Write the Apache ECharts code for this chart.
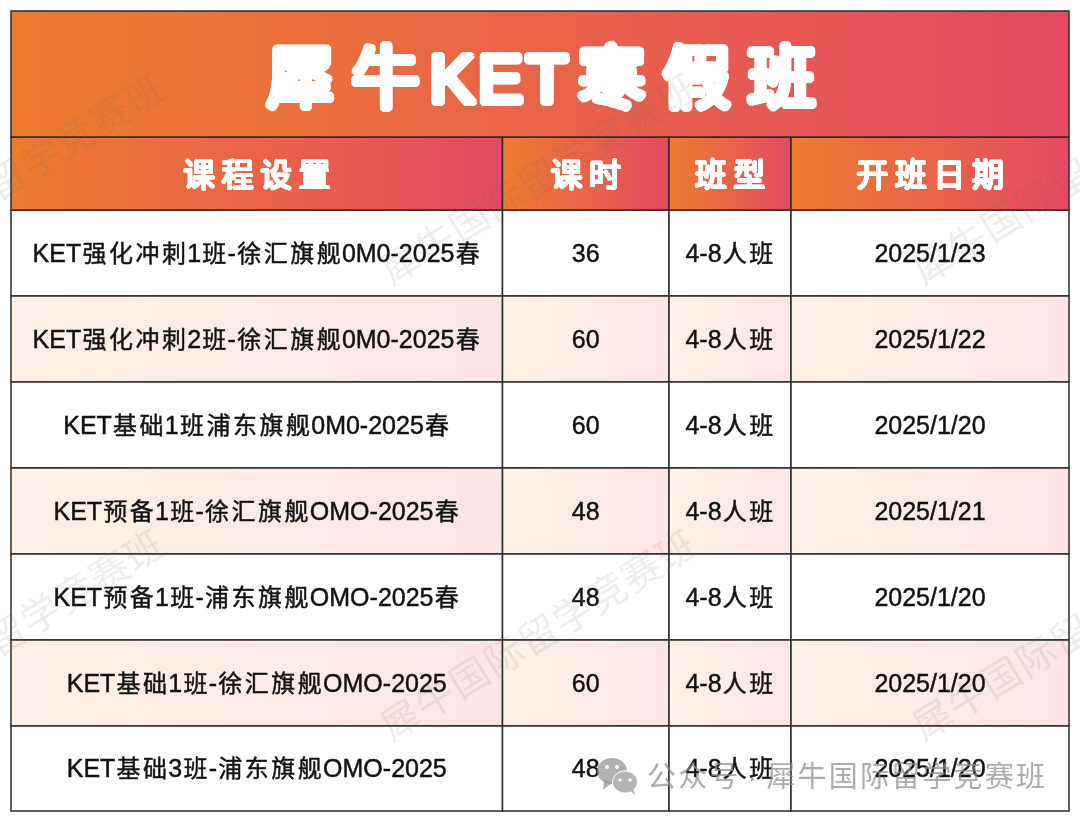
<!DOCTYPE html>
<html>
<head>
<meta charset="utf-8">
<style>html,body{margin:0;padding:0;background:#fff}#chart{width:1080px;height:822px}</style>
<script src="https://cdn.jsdelivr.net/npm/echarts@6/dist/echarts.min.js"></script>
</head>
<body>
<div id="chart"></div>
<script>
// table content
var titleText = '犀牛KET寒假班';
var headers = ['课程设置', '课时', '班型', '开班日期'];
var courses = [
	'KET强化冲刺1班-徐汇旗舰0M0-2025春',
	'KET强化冲刺2班-徐汇旗舰0M0-2025春',
	'KET基础1班浦东旗舰0M0-2025春',
	'KET预备1班-徐汇旗舰OMO-2025春',
	'KET预备1班-浦东旗舰OMO-2025春',
	'KET基础1班-徐汇旗舰OMO-2025',
	'KET基础3班-浦东旗舰OMO-2025'
];
var hours = [36, 60, 60, 48, 48, 60, 48];
var classTypes = ['4-8人班', '4-8人班', '4-8人班', '4-8人班', '4-8人班', '4-8人班', '4-8人班'];
var startDates = ['2025/1/23', '2025/1/22', '2025/1/20', '2025/1/21', '2025/1/20', '2025/1/20', '2025/1/20'];
var watermarkText = '犀牛国际留学竞赛班';
var captionText = '公众号 · 犀牛国际留学竞赛班';

// grid lines of the table, in axis units
var columnEdges = [11, 502.5, 669, 791, 1069];
var rowEdges = [11, 137, 210, 296, 382, 468, 554, 640, 726, 811];

var FONT = '"Liberation Sans","Noto Sans CJK SC",sans-serif';
var measureCtx = document.createElement('canvas').getContext('2d');

// canvas text has no letter spacing, so lay a string out one char at a time.
// fat > 0 stamps each glyph in a ring, which gives the rounded poster look
function spacedChars(text, size, opts, style) {
	var latinSize = opts.latinSize || size;
	var items = [], total = 0;
	for (var i = 0; i < text.length; i++) {
		var ch = text.charAt(i);
		var isCjk = ch.charCodeAt(0) > 0x2E80;
		var font = 'normal ' + (isCjk ? size : latinSize) + 'px ' + FONT;
		measureCtx.font = font;
		var adv = isCjk ? opts.cjk : measureCtx.measureText(ch).width + (opts.latin || 0);
		items.push({ ch: ch, at: total, adv: adv, font: font });
		total += adv;
	}
	var out = [];
	var fat = opts.fat || 0, stamps = fat ? 16 : 0;
	items.forEach(function (it) {
		var x = it.at + it.adv / 2 - total / 2;
		for (var s = 0; s <= stamps; s++) {
			var ang = s / 16 * Math.PI * 2;
			out.push({
				type: 'text',
				x: x + (s < stamps ? Math.cos(ang) * fat : 0),
				y: s < stamps ? Math.sin(ang) * fat : 0,
				silent: true,
				z: opts.z || 0,
				style: Object.assign({ text: it.ch, font: it.font, align: 'center', verticalAlign: 'middle' }, style)
			});
		}
	});
	return out;
}

function textGroup(x, y, children) {
	return { type: 'group', x: x, y: y, silent: true, children: children };
}

function gradient(from, to) {
	return new echarts.graphic.LinearGradient(0, 0, 1, 0, [{ offset: 0, color: from }, { offset: 1, color: to }]);
}

function cellRect(api, x0, x1, y0, y1, fill) {
	var a = api.coord([x0, y0]), b = api.coord([x1, y1]);
	return {
		type: 'rect',
		shape: { x: a[0], y: a[1], width: b[0] - a[0], height: b[1] - a[1] },
		style: { fill: fill, stroke: '#2b2b2b', lineWidth: 1.5 }
	};
}

function renderTitle(params, api) {
	var c = api.coord([(columnEdges[0] + columnEdges[4]) / 2, (rowEdges[0] + rowEdges[1]) / 2]);
	return {
		type: 'group',
		children: [
			cellRect(api, columnEdges[0], columnEdges[4], rowEdges[0], rowEdges[1], gradient('#EE7C2E', '#E44A62')),
			textGroup(c[0] + 1, c[1] + 10, spacedChars(titleText, 68, { cjk: 85, latin: 3, fat: 3.6 }, { fill: '#fff' }))
		]
	};
}

function renderHeader(params, api) {
	var col = params.dataIndex;
	var c = api.coord([(columnEdges[col] + columnEdges[col + 1]) / 2, (rowEdges[1] + rowEdges[2]) / 2]);
	return {
		type: 'group',
		children: [
			cellRect(api, columnEdges[col], columnEdges[col + 1], rowEdges[1], rowEdges[2], gradient('#EE7C2E', '#E44A62')),
			textGroup(c[0], c[1] + 4, spacedChars(headers[col], 32, { cjk: 38.5, fat: 1 }, { fill: '#fff' }))
		]
	};
}

function renderRow(params, api) {
	var row = params.dataIndex;
	var values = [courses[row], String(hours[row]), classTypes[row], startDates[row]];
	var y0 = rowEdges[row + 2], y1 = rowEdges[row + 3];
	var fill = row % 2 === 1 ? gradient('#FEF1E6', '#FDE5E8') : '#fff';
	var children = [];
	values.forEach(function (value, col) {
		var c = api.coord([(columnEdges[col] + columnEdges[col + 1]) / 2, (y0 + y1) / 2]);
		children.push(cellRect(api, columnEdges[col], columnEdges[col + 1], y0, y1, fill));
		children.push(textGroup(c[0], c[1] + 2, spacedChars(value, 24, { cjk: 26.5, latinSize: 25 }, {
			fill: '#111', stroke: '#111', lineWidth: 0.45
		})));
	});
	return { type: 'group', children: children };
}

// site watermark, tiled across the picture
function watermarks() {
	var out = [];
	[182, 638].forEach(function (y) {
		[8, 540, 1072].forEach(function (x) {
			out.push({
				type: 'group', x: x, y: y, rotation: 0.553, silent: true,
				children: spacedChars(watermarkText, 39, { cjk: 40.4, z: 50 }, { fill: 'rgba(110,110,110,0.12)' })
			});
		});
	});
	return out;
}

function wechatCaption() {
	var grey = 'rgba(150,150,150,0.75)', eye = 'rgba(255,255,255,0.9)';
	return [
		{ type: 'ellipse', shape: { cx: 612, cy: 771, rx: 15, ry: 13 }, style: { fill: grey }, z: 60, silent: true },
		{ type: 'polygon', shape: { points: [[604, 780], [603, 790], [612, 783]] }, style: { fill: grey }, z: 60, silent: true },
		{ type: 'ellipse', shape: { cx: 625, cy: 782, rx: 12.5, ry: 11 }, style: { fill: '#b4b4b4', stroke: '#fff', lineWidth: 1 }, z: 61, silent: true },
		{ type: 'polygon', shape: { points: [[629, 790], [635, 795], [633, 787]] }, style: { fill: '#b4b4b4' }, z: 61, silent: true },
		{ type: 'circle', shape: { cx: 607, cy: 767, r: 2 }, style: { fill: eye }, z: 62, silent: true },
		{ type: 'circle', shape: { cx: 617, cy: 767, r: 2 }, style: { fill: eye }, z: 62, silent: true },
		{ type: 'circle', shape: { cx: 620, cy: 780, r: 1.8 }, style: { fill: eye }, z: 62, silent: true },
		{ type: 'circle', shape: { cx: 630, cy: 780, r: 1.8 }, style: { fill: eye }, z: 62, silent: true },
		{
			type: 'group', x: 846, y: 779, silent: true,
			children: spacedChars(captionText, 29, { cjk: 31.2, z: 60 }, { fill: 'rgba(140,140,140,0.72)' })
		}
	];
}

var chart = echarts.init(document.getElementById('chart'), null, { width: 1080, height: 822 });
chart.setOption({
	animation: false,
	grid: { left: 0, right: 0, top: 0, bottom: 0 },
	xAxis: { type: 'value', min: 0, max: 1080, show: false },
	yAxis: { type: 'value', min: 0, max: 822, inverse: true, show: false },
	graphic: watermarks().concat(wechatCaption()),
	series: [
		{ type: 'custom', clip: false, silent: true, z: 3, renderItem: renderTitle, data: [[0, 0]] },
		{ type: 'custom', clip: false, silent: true, z: 2, renderItem: renderHeader, data: headers.map(function (h, i) { return [i, 0]; }) },
		{ type: 'custom', clip: false, silent: true, z: 1, renderItem: renderRow, data: courses.map(function (c, i) { return [i, 0]; }) }
	]
});
</script>
</body>
</html>
